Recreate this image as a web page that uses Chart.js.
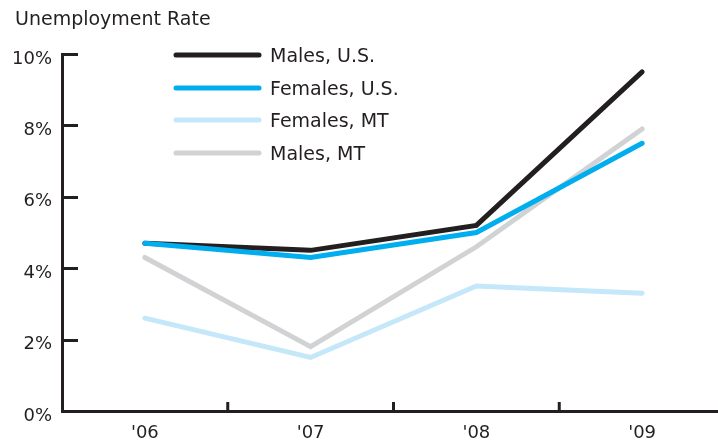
<!DOCTYPE html>
<html>
<head>
<meta charset="utf-8">
<script src="https://cdn.jsdelivr.net/npm/chart.js@4/dist/chart.umd.min.js"></script>
<style>
  html, body { margin: 0; padding: 0; background: #fff; overflow: hidden; }
  #wrap { position: relative; width: 725px; height: 446px; }
</style>
</head>
<body>
<div id="wrap"><canvas id="grafico" width="725" height="446"></canvas></div>
<script>
// dati
var anni = ["'06", "'07", "'08", "'09"];
var maschiUS = [4.7, 4.5, 5.2, 9.5];
var femmineUS = [4.7, 4.3, 5.0, 7.5];
var femmineMT = [2.6, 1.5, 3.5, 3.3];
var maschiMT = [4.3, 1.8, 4.6, 7.9];
var nomiSerie = ["Males, U.S.", "Females, U.S.", "Females, MT", "Males, MT"];
var tickY = [0, 2, 4, 6, 8, 10];

var INK = "#231f20";
var FONT = "'DejaVu Sans', sans-serif";

// titolo + legenda + tacche verso l'interno
var extra = {
    id: "extra",
    afterDraw: function (chart) {
        var ctx = chart.ctx;
        var area = chart.chartArea;
        ctx.save();
        ctx.fillStyle = INK;
        ctx.font = "19px " + FONT;
        ctx.textBaseline = "alphabetic";
        ctx.textAlign = "left";
        ctx.fillText("Unemployment Rate", 15, 25);

        // tacche asse y
        var sy = chart.scales.y;
        ctx.strokeStyle = INK;
        ctx.lineWidth = 3;
        ctx.lineCap = "butt";
        sy.ticks.forEach(function (t, i) {
            var py = Math.round(sy.getPixelForTick(i)) + 0.5;
            ctx.beginPath();
            ctx.moveTo(area.left, py);
            ctx.lineTo(area.left + 16, py);
            ctx.stroke();
        });
        // tacche asse x tra le categorie
        var sx = chart.scales.x;
        for (let i = 1; i < anni.length; i++) {
            var px = (sx.getPixelForValue(i - 1) + sx.getPixelForValue(i)) / 2;
            ctx.beginPath();
            ctx.moveTo(px, area.bottom);
            ctx.lineTo(px, area.bottom - 9);
            ctx.stroke();
        }

        // legenda
        var ds = chart.data.datasets;
        var righe = [55, 88, 120, 153];
        ctx.font = "19px " + FONT;
        ctx.textBaseline = "middle";
        ctx.lineCap = "round";
        for (let i = 0; i < ds.length; i++) {
            ctx.strokeStyle = ds[i].borderColor;
            ctx.lineWidth = 5;
            ctx.beginPath();
            ctx.moveTo(176, righe[i]);
            ctx.lineTo(259, righe[i]);
            ctx.stroke();
            ctx.fillStyle = INK;
            ctx.fillText(ds[i].label, 270, righe[i] + 2);
        }
        ctx.restore();
    }
};

var grafico = document.getElementById("grafico").getContext("2d");
var chart = new Chart(grafico, {
    type: "line",
    data: {
        labels: anni,
        datasets: [
            { label: nomiSerie[0], data: maschiUS, borderColor: INK, order: 1 },
            { label: nomiSerie[1], data: femmineUS, borderColor: "#00aeef", order: 0 },
            { label: nomiSerie[2], data: femmineMT, borderColor: "#c4e7f9", order: 2 },
            { label: nomiSerie[3], data: maschiMT, borderColor: "#d1d2d4", order: 3 }
        ]
    },
    options: {
        responsive: false,
        animation: false,
        devicePixelRatio: 1,
        layout: { padding: { top: 54, left: 0, right: 0, bottom: 0 } },
        elements: {
            line: { borderWidth: 5, tension: 0, borderCapStyle: "round", borderJoinStyle: "miter", fill: false },
            point: { radius: 0, hoverRadius: 0 }
        },
        plugins: {
            legend: { display: false },
            tooltip: { enabled: false },
            title: { display: false }
        },
        scales: {
            x: {
                offset: true,
                grid: { display: false, drawTicks: false, offset: true },
                border: { display: true, color: INK, width: 3 },
                ticks: { color: INK, font: { family: FONT, size: 18 }, padding: 12 },
                afterFit: function (s) { s.height = 35; }
            },
            y: {
                min: 0,
                max: 10,
                afterBuildTicks: function (s) { s.ticks = tickY.map(function (v) { return { value: v }; }); },
                grid: { display: false, drawTicks: false },
                border: { display: true, color: INK, width: 3 },
                ticks: {
                    color: INK,
                    font: { family: FONT, size: 18 },
                    padding: 10,
                    labelOffset: 5,
                    callback: function (v) { return v + "%"; }
                },
                afterFit: function (s) { s.width = 62; }
            }
        }
    },
    plugins: [extra]
});
</script>
</body>
</html>
